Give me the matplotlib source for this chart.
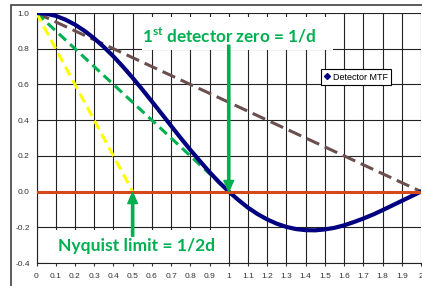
import matplotlib
matplotlib.use("Agg")
import matplotlib.pyplot as plt
from matplotlib.lines import Line2D
from matplotlib.patches import Rectangle

# detector MTF (sinc shaped), every 0.05
mtf_x = [0.00, 0.05, 0.10, 0.15, 0.20, 0.25, 0.30, 0.35, 0.40, 0.45,
         0.50, 0.55, 0.60, 0.65, 0.70, 0.75, 0.80, 0.85, 0.90, 0.95,
         1.00, 1.05, 1.10, 1.15, 1.20, 1.25, 1.30, 1.35, 1.40, 1.45,
         1.50, 1.55, 1.60, 1.65, 1.70, 1.75, 1.80, 1.85, 1.90, 1.95, 2.00]
mtf_y = [1.000, 0.996, 0.984, 0.963, 0.935, 0.900, 0.858, 0.810, 0.757, 0.699,
         0.637, 0.572, 0.505, 0.437, 0.368, 0.300, 0.234, 0.171, 0.109, 0.052,
         0.000, -0.047, -0.090, -0.126, -0.156, -0.180, -0.198, -0.210, -0.216, -0.217,
         -0.212, -0.203, -0.189, -0.171, -0.151, -0.129, -0.104, -0.078, -0.052, -0.026, 0.000]

# straight reference lines
zero_x = [0.0, 2.0]
zero_y = [0.0, 0.0]
nyq_line_x = [0.0, 0.5]
nyq_line_y = [1.0, 0.0]
det_line_x = [0.0, 1.0]
det_line_y = [1.0, 0.0]
twice_line_x = [0.0, 2.0]
twice_line_y = [1.0, 0.0]

x_ticks = [0.0, 0.1, 0.2, 0.3, 0.4, 0.5, 0.6, 0.7, 0.8, 0.9, 1.0,
           1.1, 1.2, 1.3, 1.4, 1.5, 1.6, 1.7, 1.8, 1.9, 2.0]
x_labels = ["0", "0.1", "0.2", "0.3", "0.4", "0.5", "0.6", "0.7", "0.8", "0.9", "1",
            "1.1", "1.2", "1.3", "1.4", "1.5", "1.6", "1.7", "1.8", "1.9", "2"]
y_ticks = [-0.4, -0.2, 0.0, 0.2, 0.4, 0.6, 0.8, 1.0]
y_labels = ["-0.4", "-0.2", "0.0", "0.2", "0.4", "0.6", "0.8", "1.0"]

GREEN = "#00B050"
NAVY = "#000080"

plt.rcParams["mathtext.fontset"] = "custom"
plt.rcParams["mathtext.rm"] = "Lato:bold"
plt.rcParams["mathtext.bf"] = "Lato:bold"

fig = plt.figure(figsize=(4.22, 2.86), dpi=100)
ax = fig.add_axes([36.5 / 422, 1 - 263 / 286, 384.5 / 422, 250 / 286])
ax.set_xlim(0, 2)
ax.set_ylim(-0.4, 1.0)
ax.set_axisbelow(True)

ax.set_xticks(x_ticks)
ax.set_xticklabels(x_labels)
ax.set_yticks(y_ticks)
ax.set_yticklabels(y_labels, ha="center")
ax.tick_params(axis="x", length=2, width=0.8, pad=5, labelsize=6, colors="#333333")
ax.tick_params(axis="y", length=0, pad=9.5, labelsize=6, colors="#333333")
for lab in ax.get_xticklabels() + ax.get_yticklabels():
    lab.set_fontfamily("Liberation Sans")
ax.grid(True, color="#222222", linewidth=0.8)
for side in ["top", "right"]:
    ax.spines[side].set_visible(False)
for side in ["left", "bottom"]:
    ax.spines[side].set_color("#222222")
    ax.spines[side].set_linewidth(0.8)

ax.plot(twice_line_x, twice_line_y, color="#6B4E4E", lw=2.2, dashes=(4.5, 2), zorder=3)
ax.plot(det_line_x, det_line_y, color=GREEN, lw=2.2, dashes=(3.2, 1.8), zorder=3)
ax.plot(nyq_line_x, nyq_line_y, color="#FFFF00", lw=2.2, dashes=(3.2, 1.8), zorder=3)
ax.plot(mtf_x, mtf_y, color=NAVY, lw=3, solid_joinstyle="round", zorder=4)
ax.plot(zero_x, zero_y, color="#D4491A", lw=2.2, zorder=5)

# white text boxes hiding the grid
ax.add_patch(Rectangle((0.55, 0.79), 0.99, 0.19, facecolor="white", edgecolor="none", zorder=2))
ax.add_patch(Rectangle((0.065, -0.405), 0.925, 0.19, facecolor="white", edgecolor="none",
                       zorder=2, clip_on=False))

ax.text(1.0, 0.87, r"1$^{\rm st}$ detector zero = 1/d", color=GREEN, fontsize=12.3,
        fontfamily="Lato", fontweight="bold", ha="center", va="center", zorder=6)
ax.text(0.52, -0.305, "Nyquist limit = 1/2d", color=GREEN, fontsize=12.6,
        fontfamily="Lato", fontweight="bold", ha="center", va="center", zorder=6)

arrow = dict(facecolor=GREEN, edgecolor=GREEN, width=1.6, headwidth=7, headlength=8)
ax.annotate("", xy=(1.0, 0.0), xytext=(1.0, 0.82), arrowprops=arrow, zorder=6)
ax.annotate("", xy=(0.5, -0.005), xytext=(0.5, -0.25), arrowprops=arrow, zorder=6)

handle = Line2D([], [], color=NAVY, marker="D", markersize=3, linestyle="none")
leg = ax.legend([handle], ["Detector MTF"], loc="upper left",
                bbox_to_anchor=(321 / 422, 1 - 69 / 286), bbox_transform=fig.transFigure,
                borderaxespad=0, borderpad=0.4, handlelength=0.6, handletextpad=0.3,
                fancybox=False, framealpha=1, edgecolor="black",
                prop={"family": "Liberation Sans", "size": 6.5})
leg.get_frame().set_linewidth(0.8)

# outer chart border, cut off at the right and bottom
fig.add_artist(Rectangle((11 / 422, -0.05), 1.0, 1 - 5 / 286 + 0.05, transform=fig.transFigure,
                         facecolor="none", edgecolor="#404040", lw=1.2))

fig.savefig("out.png", dpi=100)
